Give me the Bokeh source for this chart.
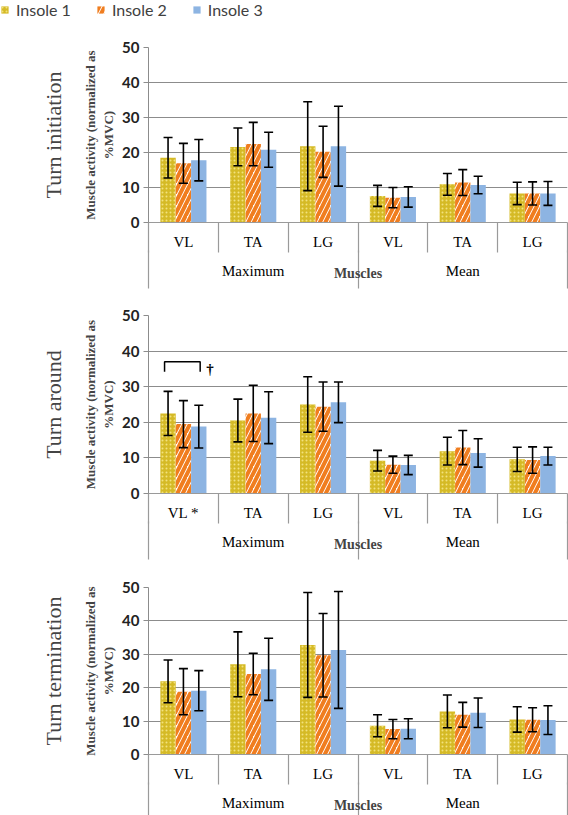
from bokeh.plotting import figure
from bokeh.models import (Whisker, ColumnDataSource, Legend, LegendItem,
                          TeeHead, FixedTicker, LinearAxis, Range1d)
from bokeh.transform import dodge
from bokeh.layouts import column
from bokeh.embed import file_html
from bokeh.resources import INLINE
from bokeh.core.properties import value

# ---------------- data ----------------
groups = ["Maximum", "Mean"]
muscles = ["VL", "TA", "LG"]
muscles_around_max = ["VL *", "TA", "LG"]   # turn around, Maximum group
series = ["Insole 1", "Insole 2", "Insole 3"]
panel_titles = ["Turn initiation", "Turn around", "Turn termination"]
y_ticks = [0, 10, 20, 30, 40, 50]

# order: Maximum VL, TA, LG, Mean VL, TA, LG
init_insole1 = [18.5, 21.6, 21.8, 7.6, 10.9, 8.3]
init_insole1_sd = [5.8, 5.4, 12.7, 3.0, 3.1, 3.2]
init_insole2 = [16.9, 22.4, 20.2, 7.1, 11.4, 8.3]
init_insole2_sd = [5.7, 6.2, 7.3, 2.9, 3.7, 3.3]
init_insole3 = [17.8, 20.8, 21.8, 7.3, 10.7, 8.3]
init_insole3_sd = [5.9, 5.0, 11.4, 2.9, 2.5, 3.4]

around_insole1 = [22.5, 20.5, 25.0, 9.2, 11.9, 9.6]
around_insole1_sd = [6.2, 6.0, 7.8, 2.9, 3.9, 3.4]
around_insole2 = [19.5, 22.5, 24.4, 8.1, 12.9, 9.4]
around_insole2_sd = [6.6, 7.9, 6.9, 2.4, 4.8, 3.7]
around_insole3 = [18.8, 21.3, 25.6, 8.0, 11.4, 10.5]
around_insole3_sd = [6.0, 7.3, 5.7, 2.7, 4.0, 2.5]

term_insole1 = [21.9, 27.0, 32.8, 8.6, 12.9, 10.5]
term_insole1_sd = [6.4, 9.7, 15.7, 3.3, 4.9, 3.8]
term_insole2 = [18.8, 24.1, 29.7, 7.6, 11.9, 10.4]
term_insole2_sd = [6.9, 6.2, 12.5, 2.9, 3.7, 3.6]
term_insole3 = [19.1, 25.5, 31.3, 7.7, 12.5, 10.3]
term_insole3_sd = [6.0, 9.3, 17.5, 3.0, 4.4, 4.3]

# significance bracket (turn around, Maximum VL)
bracket_y_top = 37.0
bracket_y_bottom = 34.2
dagger_y = 35.0

# ---------------- styles ----------------
bar_styles = [
    dict(fill_color="#d5ba26", hatch_pattern="dot", hatch_color="#f2e27e",
         hatch_scale=4, hatch_weight=1.2),
    dict(fill_color="white", hatch_pattern="right_diagonal_line", hatch_color="#f07d1f",
         hatch_scale=11, hatch_weight=4),
    dict(fill_color="#8db4e2"),
]
offsets = [-0.22, 0.0, 0.22]
BW = 0.22
SEP = "#9a9a9a"
W = 568

# ---------------- legend strip ----------------
lg = figure(width=W, height=18, x_range=(0, 1), y_range=(0, 1),
            output_backend="svg", toolbar_location=None,
            x_axis_location=None, y_axis_location=None,
            min_border=0, min_border_left=0, min_border_right=0,
            min_border_top=0, min_border_bottom=0, outline_line_color=None)
lg.grid.visible = False
# legend-only renderers, placed outside the visible range
dummies = [lg.vbar(x=[5], top=[1], width=0.1, line_color=None, **st) for st in bar_styles]
lg.add_layout(Legend(items=[LegendItem(label=s, renderers=[r]) for s, r in zip(series, dummies)],
                     orientation="horizontal", location="top_left",
                     label_text_font="Lato", label_text_font_size="16px",
                     label_text_color="#404040", glyph_width=9, glyph_height=9,
                     label_height=16, label_standoff=7, spacing=25, padding=0, margin=0,
                     border_line_color=None, background_fill_alpha=0))

panels = [
    (panel_titles[0], muscles, muscles,
     [(init_insole1, init_insole1_sd), (init_insole2, init_insole2_sd),
      (init_insole3, init_insole3_sd)]),
    (panel_titles[1], muscles_around_max, muscles,
     [(around_insole1, around_insole1_sd), (around_insole2, around_insole2_sd),
      (around_insole3, around_insole3_sd)]),
    (panel_titles[2], muscles, muscles,
     [(term_insole1, term_insole1_sd), (term_insole2, term_insole2_sd),
      (term_insole3, term_insole3_sd)]),
]

heights = [272, 270, 255]
tops = [29, 25, 27]
bottoms = [68, 67, 58]

figs = []
for i, (title, musc_max, musc_mean, data) in enumerate(panels):
    factors = [(groups[0], m) for m in musc_max] + [(groups[1], m) for m in musc_mean]
    n = len(factors)
    idx = list(range(n))          # category positions on the x scale
    p = figure(x_range=Range1d(-0.5, n - 0.5), y_range=(0, 50),
               width=W, height=heights[i],
               output_backend="svg", toolbar_location=None,
               x_axis_location=None,
               min_border_left=148, min_border_right=1,
               min_border_top=tops[i], min_border_bottom=bottoms[i],
               title=title, title_location="left")
    p.title.text_font = "Liberation Serif"
    p.title.text_font_size = "22px"
    p.title.text_font_style = "normal"
    p.title.align = "center"
    p.title.standoff = 29
    p.outline_line_color = None
    p.xgrid.grid_line_color = None
    p.ygrid.grid_line_color = "#8c8c8c"
    p.ygrid.grid_line_width = 1.2

    for k, ((vals, sds), st) in enumerate(zip(data, bar_styles)):
        src = ColumnDataSource(dict(
            x=idx, top=vals,
            upper=[v + s for v, s in zip(vals, sds)],
            lower=[v - s for v, s in zip(vals, sds)]))
        p.vbar(x=dodge("x", offsets[k]), top="top", width=BW,
               source=src, line_color=None, **st)
        w = Whisker(base=dodge("x", offsets[k]), upper="upper", lower="lower",
                    source=src, line_color="black", line_width=1.6, level="overlay",
                    upper_head=TeeHead(size=9, line_color="black", line_width=1.6),
                    lower_head=TeeHead(size=9, line_color="black", line_width=1.6))
        p.add_layout(w)

    if i == 1:
        x0 = idx[0]
        xb = [x0 - 0.27, x0 - 0.27, x0 + 0.24, x0 + 0.24]
        yb = [bracket_y_bottom, bracket_y_top, bracket_y_top, bracket_y_bottom]
        p.line(x=xb, y=yb, line_color="black", line_width=1.5)
        p.text(x=[x0 + 0.38], y=[dagger_y], text=["†"],
               text_font=value("Liberation Serif"), text_font_size="15px",
               text_font_style="bold", text_baseline="middle", text_align="center")

    # y axis
    ya = p.yaxis[0]
    ya.ticker = FixedTicker(ticks=y_ticks)
    ya.major_label_text_font = "Lato"
    ya.major_label_text_font_style = "bold"
    ya.major_label_text_font_size = "15px"
    ya.major_label_text_color = "#222222"
    ya.axis_line_color = "#8c8c8c"
    ya.major_tick_line_color = "#8c8c8c"
    ya.major_tick_out = 5
    ya.major_tick_in = 0
    ya.minor_tick_line_color = None
    ya.minor_tick_out = 0
    ya.minor_tick_in = 0
    ya.axis_label = "Muscle activity (normalized as\n%MVC)"
    ya.axis_label_text_font = "Liberation Serif"
    ya.axis_label_text_font_style = "bold"
    ya.axis_label_text_font_size = "13px"
    ya.axis_label_standoff = 3
    ya.major_label_standoff = 4

    # inner category axis: muscles, short separators (minor ticks at boundaries)
    mus_labels = {t: m for t, (g, m) in zip(idx, factors)}
    ax1 = LinearAxis(ticker=FixedTicker(ticks=idx,
                                        minor_ticks=[t - 0.5 for t in range(n + 1)]),
                     major_label_overrides=mus_labels)
    ax1.major_label_text_font = "Liberation Serif"
    ax1.major_label_text_font_size = "15px"
    ax1.major_label_text_color = "black"
    ax1.major_tick_line_color = None
    ax1.major_tick_out = 0
    ax1.major_tick_in = 0
    ax1.minor_tick_line_color = SEP
    ax1.minor_tick_line_width = 1.2
    ax1.minor_tick_out = 30
    ax1.minor_tick_in = 0
    ax1.major_label_standoff = -19
    ax1.axis_line_color = SEP
    ax1.axis_line_width = 1.2
    p.add_layout(ax1, "below")

    # outer category axis: groups, long separators
    grp_ticks = [1, 4]
    grp_labels = {1: groups[0], 4: groups[1]}
    ax2 = LinearAxis(ticker=FixedTicker(ticks=grp_ticks, minor_ticks=[-0.5, 2.5, 5.5]),
                     major_label_overrides=grp_labels)
    ax2.major_label_text_font = "Liberation Serif"
    ax2.major_label_text_font_size = "15px"
    ax2.major_label_text_color = "black"
    ax2.major_tick_line_color = None
    ax2.major_tick_out = 0
    ax2.major_tick_in = 0
    ax2.minor_tick_line_color = SEP
    ax2.minor_tick_line_width = 1.2
    ax2.minor_tick_out = 36
    ax2.minor_tick_in = 2
    ax2.major_label_standoff = -26
    ax2.axis_line_color = None
    ax2.axis_label = "Muscles"
    ax2.axis_label_text_font = "Liberation Serif"
    ax2.axis_label_text_font_style = "bold"
    ax2.axis_label_text_font_size = "14px"
    ax2.axis_label_standoff = -16
    p.add_layout(ax2, "below")

    figs.append(p)

layout = column(*figs, spacing=0)
open("out.html", "w").write(file_html([lg, layout], INLINE))
